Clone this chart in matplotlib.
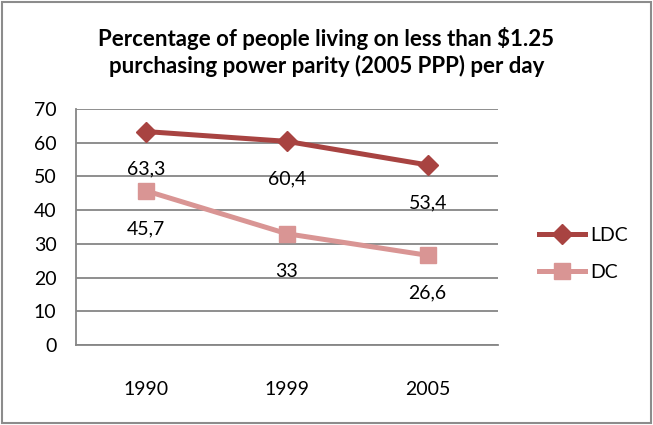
import matplotlib
matplotlib.use("Agg")
import matplotlib.pyplot as plt
from matplotlib.patches import Rectangle

years = ["1990", "1999", "2005"]
ldc = [63.3, 60.4, 53.4]
dc = [45.7, 33, 26.6]
ldc_labels = ["63,3", "60,4", "53,4"]
dc_labels = ["45,7", "33", "26,6"]
yticks = [0, 10, 20, 30, 40, 50, 60, 70]

plt.rcParams['font.family'] = ['Lato', 'DejaVu Sans']

W, H = 653, 425
fig = plt.figure(figsize=(W / 100, H / 100), dpi=100)
fig.patches.append(Rectangle((0.003, 0.004), 0.994, 0.992, transform=fig.transFigure,
                             fill=False, edgecolor='#8c8c8c', linewidth=1.5))

ax = fig.add_axes([76 / W, 1 - 345 / H, (498 - 76) / W, (345 - 109) / H])
x = range(len(years))
ldc_color = '#A84341'
dc_color = '#D99594'
ax.plot(x, ldc, color=ldc_color, lw=3.6, marker='D', ms=10, label='LDC', zorder=3)
ax.plot(x, dc, color=dc_color, lw=3.6, marker='s', ms=12, label='DC', zorder=3)

fs = 14
for xi, v, t in zip(x, ldc, ldc_labels):
    ax.annotate(t, (xi, v), xytext=(0, -27), textcoords='offset points',
                ha='center', va='center', fontsize=fs, color='black')
for xi, v, t in zip(x, dc, dc_labels):
    ax.annotate(t, (xi, v), xytext=(0, -27), textcoords='offset points',
                ha='center', va='center', fontsize=fs, color='black')

ax.set_xlim(-0.5, 2.5)
ax.set_ylim(0, 70)
ax.set_yticks(yticks)
ax.set_xticks(list(x))
ax.set_xticklabels(years)
ax.yaxis.grid(True, color='#868686', lw=1.3)
ax.set_axisbelow(True)
for s in ['top', 'right']:
    ax.spines[s].set_visible(False)
for s in ['left', 'bottom']:
    ax.spines[s].set_color('#868686')
    ax.spines[s].set_linewidth(1.3)
ax.tick_params(axis='both', length=0, labelsize=fs)
ax.tick_params(axis='y', pad=14)
ax.tick_params(axis='x', pad=26)

fig.text(0.5, 1 - 52 / H, "Percentage of people living on less than $1.25\npurchasing power parity (2005 PPP) per day",
         ha='center', va='center', fontsize=16, fontweight='bold', linespacing=1.3)

ax.legend(loc='center left', bbox_to_anchor=(521 / W, 1 - 254 / H), bbox_transform=fig.transFigure,
          frameon=False, fontsize=fs, handlelength=2.4, labelspacing=1.0, handletextpad=0.25)

fig.savefig("out.png", dpi=100)
